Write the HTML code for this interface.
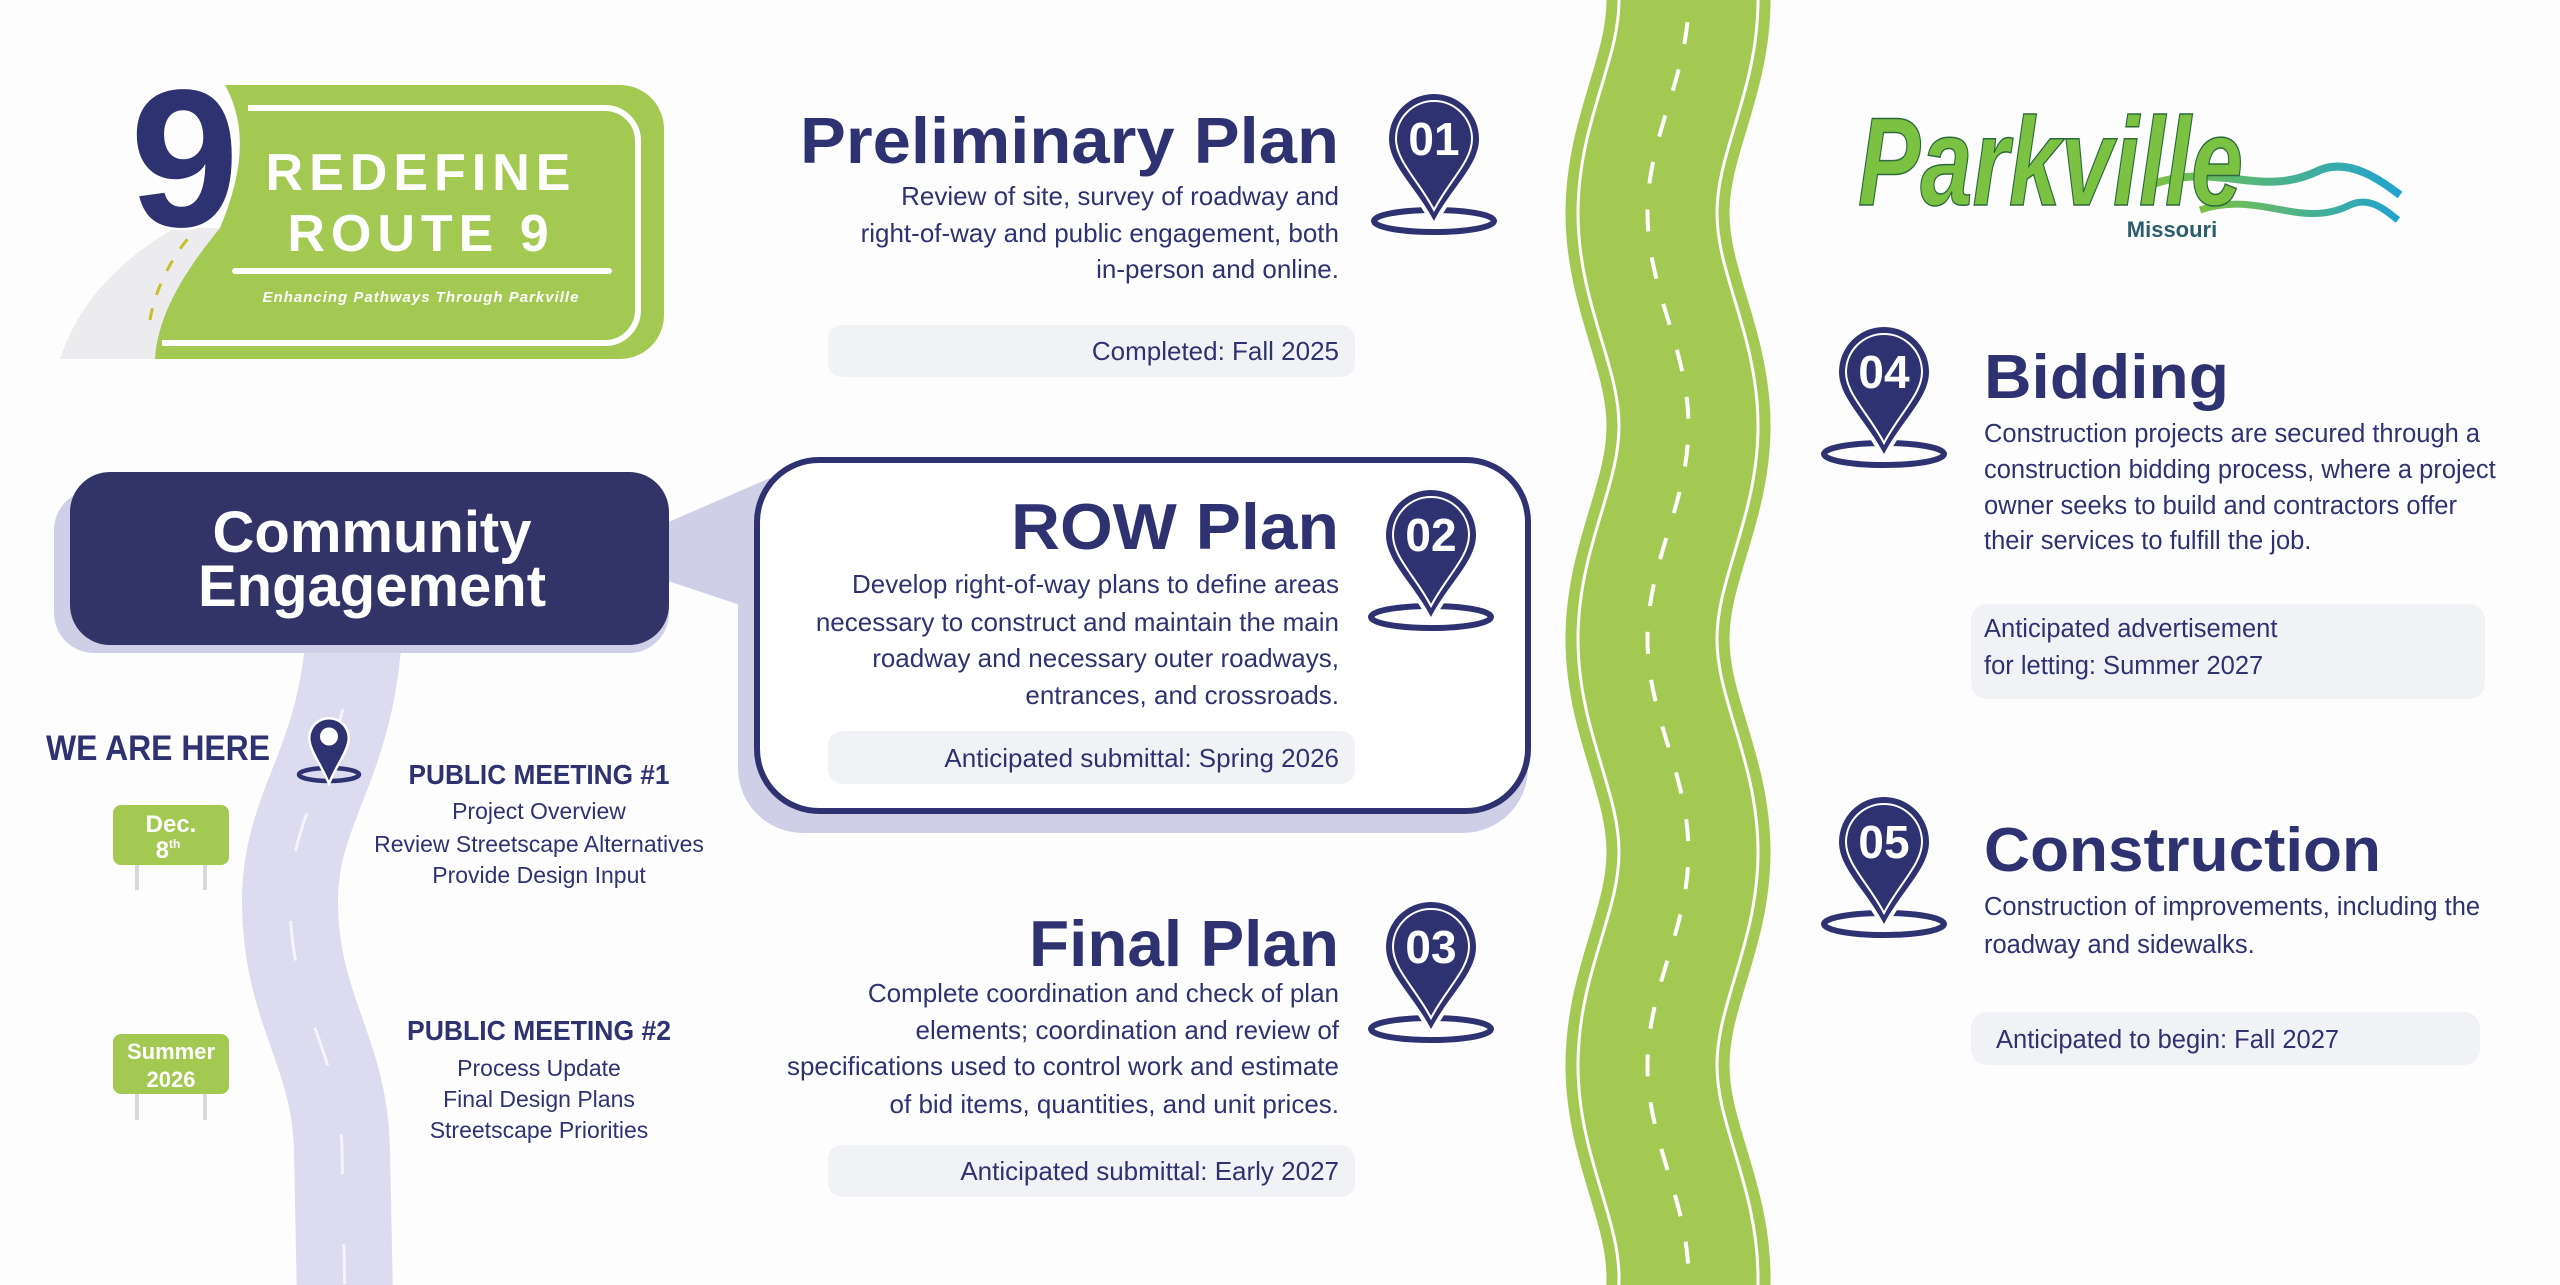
<!DOCTYPE html>
<html><head><meta charset="utf-8"><style>
html,body{margin:0;padding:0;background:#fdfdfe;width:2560px;height:1285px;overflow:hidden;}
svg{display:block;}
text{font-family:"Liberation Sans",sans-serif;}
</style></head><body>
<svg width="2560" height="1285" viewBox="0 0 2560 1285" xmlns="http://www.w3.org/2000/svg">
<defs>
<path id="rd" d="M 1647.5 -213 C 1647.5 -135.4, 1688.5 -77.6, 1688.5 0 C 1688.5 77.6, 1647.5 135.4, 1647.5 213 C 1647.5 290.6, 1688.5 348.4, 1688.5 426 C 1688.5 503.6, 1647.5 561.4, 1647.5 639 C 1647.5 716.6, 1688.5 774.4, 1688.5 852 C 1688.5 929.6, 1647.5 987.4, 1647.5 1065 C 1647.5 1142.6, 1688.5 1200.4, 1688.5 1278 C 1688.5 1355.6, 1647.5 1413.4, 1647.5 1491"/>
<g id="pin">
<ellipse cx="0" cy="82" rx="60" ry="11" fill="none" stroke="#2f3270" stroke-width="6"/>
<path d="M -45 0 A 45 45 0 1 1 45 0 C 45 26, 18 48, 0 82 C -18 48, -45 26, -45 0 Z" fill="#2f3270" stroke="#fdfdfe" stroke-width="8" paint-order="stroke"/>
<path d="M -38 0 A 38 38 0 1 1 38 0 C 38 22, 15 42, 0 71 C -15 42, -38 22, -38 0 Z" fill="none" stroke="#fff" stroke-width="2"/>
</g>
<linearGradient id="wave" x1="0" x2="1" y1="0" y2="0"><stop offset="0" stop-color="#7cc242"/><stop offset="1" stop-color="#1fa3d0"/></linearGradient>
</defs>

<!-- right green road -->
<g fill="none">
<use href="#rd" stroke="#a3c952" stroke-width="164"/>
<use href="#rd" stroke="#ffffff" stroke-width="142"/>
<use href="#rd" stroke="#a3c952" stroke-width="136"/>
<use href="#rd" stroke="#ffffff" stroke-width="4" stroke-dasharray="22 26"/>
</g>

<!-- left lavender road -->
<path d="M 355 600 C 355 760, 290 800, 290 900 C 290 1010, 340 1050, 342 1150 L 345 1300" fill="none" stroke="#dcdbef" stroke-width="96"/>
<path d="M 355 600 C 355 760, 290 800, 290 900 C 290 1010, 340 1050, 342 1150 L 345 1300" fill="none" stroke="#fff" stroke-opacity="0.7" stroke-width="3" stroke-dasharray="40 70"/>

<!-- top-left logo -->
<path d="M 60 359 C 80 300, 120 260, 175 228 L 220 228 C 190 270, 160 310, 155 359 Z" fill="#ececee"/>
<path d="M 150 320 C 155 290, 170 260, 190 236" fill="none" stroke="#c9be2e" stroke-width="3" stroke-dasharray="12 14"/>
<path d="M 225 85 L 620 85 A 44 44 0 0 1 664 129 L 664 315 A 44 44 0 0 1 620 359 L 155 359 C 158 310, 190 265, 220 228 C 240 180, 250 130, 225 85 Z" fill="#a3c952"/>
<path d="M 248 108 L 605 108 A 33 33 0 0 1 638 141 L 638 310 A 33 33 0 0 1 605 343 L 162 343" fill="none" stroke="#fff" stroke-width="6"/>
<text x="130" y="226" font-size="196" font-weight="bold" fill="#2f3270" stroke="#fff" stroke-width="5" paint-order="stroke">9</text>
<text x="421" y="190" font-size="52" font-weight="bold" fill="#fff" text-anchor="middle" letter-spacing="6">REDEFINE</text>
<text x="421" y="251" font-size="52" font-weight="bold" fill="#fff" text-anchor="middle" letter-spacing="6">ROUTE 9</text>
<rect x="232" y="268" width="380" height="6" rx="3" fill="#fff"/>
<text x="421" y="302" font-size="15" font-weight="bold" font-style="italic" fill="#fff" text-anchor="middle" letter-spacing="1">Enhancing Pathways Through Parkville</text>

<!-- Preliminary -->
<text x="1339" y="163" font-size="65" font-weight="bold" fill="#2f3270" text-anchor="end" textLength="539" lengthAdjust="spacingAndGlyphs">Preliminary Plan</text>
<g font-size="26" fill="#2f3270" text-anchor="end">
<text x="1339" y="205">Review of site, survey of roadway and</text>
<text x="1339" y="242">right-of-way and public engagement, both</text>
<text x="1339" y="278">in-person and online.</text>
</g>
<rect x="828" y="325" width="527" height="52" rx="14" fill="#f1f2f5"/>
<text x="1339" y="360" font-size="26" fill="#2f3270" text-anchor="end">Completed: Fall 2025</text>
<g transform="translate(1434,139)"><use href="#pin"/><text y="16" font-size="46" font-weight="bold" fill="#fff" text-anchor="middle">01</text></g>

<!-- Community engagement -->
<polygon points="650,530 770,478 770,615 650,575" fill="#cfcfe8"/>
<rect x="54" y="490" width="615" height="163" rx="40" fill="#cfcfe8"/>
<rect x="70" y="472" width="599" height="173" rx="40" fill="#323468"/>
<text x="372" y="552" font-size="58" font-weight="bold" fill="#fff" text-anchor="middle">Community</text>
<text x="372" y="606" font-size="58" font-weight="bold" fill="#fff" text-anchor="middle">Engagement</text>

<!-- ROW box -->
<rect x="738" y="475" width="790" height="358" rx="65" fill="#cfcfe8"/>
<rect x="757" y="460" width="771" height="351" rx="62" fill="#fff" stroke="#2f3270" stroke-width="6"/>
<text x="1339" y="549" font-size="65" font-weight="bold" fill="#2f3270" text-anchor="end" textLength="328" lengthAdjust="spacingAndGlyphs">ROW Plan</text>
<g font-size="26" fill="#2f3270" text-anchor="end">
<text x="1339" y="593">Develop right-of-way plans to define areas</text>
<text x="1339" y="631">necessary to construct and maintain the main</text>
<text x="1339" y="667">roadway and necessary outer roadways,</text>
<text x="1339" y="704">entrances, and crossroads.</text>
</g>
<rect x="828" y="731" width="527" height="53" rx="14" fill="#f1f2f5"/>
<text x="1339" y="767" font-size="26" fill="#2f3270" text-anchor="end">Anticipated submittal: Spring 2026</text>
<g transform="translate(1431,535)"><use href="#pin"/><text y="16" font-size="46" font-weight="bold" fill="#fff" text-anchor="middle">02</text></g>

<!-- Final -->
<text x="1339" y="966" font-size="65" font-weight="bold" fill="#2f3270" text-anchor="end" textLength="310" lengthAdjust="spacingAndGlyphs">Final Plan</text>
<g font-size="26" fill="#2f3270" text-anchor="end">
<text x="1339" y="1002">Complete coordination and check of plan</text>
<text x="1339" y="1039">elements; coordination and review of</text>
<text x="1339" y="1075">specifications used to control work and estimate</text>
<text x="1339" y="1113">of bid items, quantities, and unit prices.</text>
</g>
<rect x="828" y="1145" width="527" height="52" rx="14" fill="#f1f2f5"/>
<text x="1339" y="1180" font-size="26" fill="#2f3270" text-anchor="end">Anticipated submittal: Early 2027</text>
<g transform="translate(1431,947)"><use href="#pin"/><text y="16" font-size="46" font-weight="bold" fill="#fff" text-anchor="middle">03</text></g>

<!-- left timeline -->
<text x="46" y="760" font-size="35" font-weight="bold" fill="#2f3270" textLength="224" lengthAdjust="spacingAndGlyphs">WE ARE HERE</text>
<g transform="translate(329,738) scale(0.5)"><ellipse cx="0" cy="73" rx="60" ry="13" fill="none" stroke="#2f3270" stroke-width="9"/><path d="M -37 0 A 37 37 0 1 1 37 0 C 37 22, 15 50, 0 85 C -15 50, -37 22, -37 0 Z" fill="#2f3270" stroke="#fdfdfe" stroke-width="10" paint-order="stroke"/><circle cx="0" cy="-3" r="18" fill="#fff"/></g>
<rect x="135" y="860" width="4" height="30" fill="#d8d8dc"/><rect x="203" y="860" width="4" height="30" fill="#d8d8dc"/>
<rect x="113" y="805" width="116" height="60" rx="8" fill="#a3c952"/>
<text x="171" y="832" font-size="24" font-weight="bold" fill="#fff" text-anchor="middle">Dec.</text>
<text x="168" y="858" font-size="24" font-weight="bold" fill="#fff" text-anchor="middle">8<tspan font-size="12" dy="-10">th</tspan></text>
<rect x="135" y="1090" width="4" height="30" fill="#d8d8dc"/><rect x="203" y="1090" width="4" height="30" fill="#d8d8dc"/>
<rect x="113" y="1034" width="116" height="60" rx="8" fill="#a3c952"/>
<text x="171" y="1059" font-size="22" font-weight="bold" fill="#fff" text-anchor="middle">Summer</text>
<text x="171" y="1087" font-size="22" font-weight="bold" fill="#fff" text-anchor="middle">2026</text>

<g fill="#2f3270" text-anchor="middle">
<text x="539" y="784" font-size="28" font-weight="bold" textLength="261" lengthAdjust="spacingAndGlyphs">PUBLIC MEETING #1</text>
<text x="539" y="819" font-size="23">Project Overview</text>
<text x="539" y="852" font-size="23">Review Streetscape Alternatives</text>
<text x="539" y="883" font-size="23">Provide Design Input</text>
<text x="539" y="1040" font-size="28" font-weight="bold" textLength="264" lengthAdjust="spacingAndGlyphs">PUBLIC MEETING #2</text>
<text x="539" y="1076" font-size="23">Process Update</text>
<text x="539" y="1107" font-size="23">Final Design Plans</text>
<text x="539" y="1138" font-size="23">Streetscape Priorities</text>
</g>

<!-- Parkville logo -->
<path d="M 2150 185 C 2220 160, 2260 200, 2320 170 C 2350 158, 2380 180, 2400 195" fill="none" stroke="url(#wave)" stroke-width="8"/>
<path d="M 2200 210 C 2260 190, 2300 230, 2350 205 C 2370 196, 2385 210, 2398 220" fill="none" stroke="url(#wave)" stroke-width="7"/>
<text x="1858" y="205" font-family="Liberation Serif" font-size="125" font-style="italic" font-weight="bold" fill="#7cc242" stroke="#2c6a3a" stroke-width="1.5" textLength="385" lengthAdjust="spacingAndGlyphs">Parkville</text>
<text x="2172" y="237" font-family="Liberation Serif" font-size="22" font-weight="bold" fill="#2b5d6b" text-anchor="middle">Missouri</text>

<!-- Bidding -->
<g transform="translate(1884,372)"><use href="#pin"/><text y="16" font-size="46" font-weight="bold" fill="#fff" text-anchor="middle">04</text></g>
<text x="1984" y="398" font-size="62" font-weight="bold" fill="#2f3270" textLength="245" lengthAdjust="spacingAndGlyphs">Bidding</text>
<g font-size="25.5" fill="#2f3270">
<text x="1984" y="442">Construction projects are secured through a</text>
<text x="1984" y="478">construction bidding process, where a project</text>
<text x="1984" y="514">owner seeks to build and contractors offer</text>
<text x="1984" y="549">their services to fulfill the job.</text>
</g>
<rect x="1971" y="604" width="514" height="95" rx="16" fill="#f1f2f5"/>
<text x="1984" y="637" font-size="25.5" fill="#2f3270">Anticipated advertisement</text>
<text x="1984" y="674" font-size="25.5" fill="#2f3270">for letting: Summer 2027</text>

<!-- Construction -->
<g transform="translate(1884,842)"><use href="#pin"/><text y="16" font-size="46" font-weight="bold" fill="#fff" text-anchor="middle">05</text></g>
<text x="1984" y="871" font-size="62" font-weight="bold" fill="#2f3270" textLength="397" lengthAdjust="spacingAndGlyphs">Construction</text>
<g font-size="25.5" fill="#2f3270">
<text x="1984" y="915">Construction of improvements, including the</text>
<text x="1984" y="953">roadway and sidewalks.</text>
</g>
<rect x="1971" y="1012" width="509" height="53" rx="16" fill="#f1f2f5"/>
<text x="1996" y="1048" font-size="25.5" fill="#2f3270">Anticipated to begin: Fall 2027</text>
</svg>
</body></html>
